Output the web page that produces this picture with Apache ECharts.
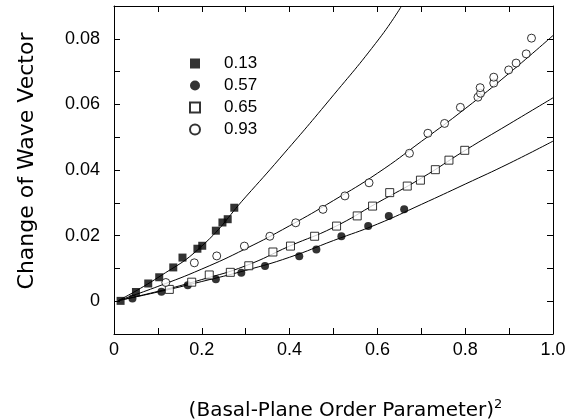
<!DOCTYPE html>
<html>
<head>
<meta charset="utf-8">
<script src="https://cdn.jsdelivr.net/npm/echarts@6/dist/echarts.min.js"></script>
<style>
html,body{margin:0;padding:0;background:#fff;}
#c{width:574px;height:420px;}
</style>
</head>
<body>
<div id="c"></div>
<script>
// Data points: [x, y]
var s013 = [[0.015,0.0001],[0.05,0.0028],[0.078,0.0054],[0.103,0.0073],[0.135,0.0103],[0.156,0.0133],[0.19,0.016],[0.201,0.0169],[0.232,0.0215],[0.247,0.024],[0.259,0.025],[0.274,0.0285]];
var s057 = [[0.042,0.0008],[0.108,0.0029],[0.168,0.0049],[0.232,0.0067],[0.29,0.0087],[0.344,0.0107],[0.422,0.0137],[0.461,0.0158],[0.518,0.0198],[0.579,0.0229],[0.626,0.026],[0.661,0.028]];
var s065 = [[0.126,0.0036],[0.177,0.0058],[0.217,0.008],[0.265,0.0088],[0.307,0.0108],[0.362,0.015],[0.402,0.0168],[0.457,0.0198],[0.507,0.0229],[0.554,0.026],[0.589,0.029],[0.628,0.0331],[0.668,0.0351],[0.698,0.0369],[0.732,0.0401],[0.763,0.043],[0.799,0.046]];
var s093 = [[0.118,0.0057],[0.183,0.0117],[0.234,0.0138],[0.297,0.0168],[0.355,0.0198],[0.414,0.0239],[0.476,0.028],[0.526,0.0321],[0.581,0.0361],[0.673,0.0451],[0.715,0.0512],[0.753,0.0542],[0.789,0.0591],[0.829,0.0622],[0.835,0.0634],[0.834,0.0651],[0.865,0.0665],[0.865,0.0683],[0.899,0.0705],[0.916,0.0726],[0.939,0.0754],[0.951,0.0802]];
// Fitted curves
var c013 = [[0.01,0.0002],[0.1,0.0072],[0.2,0.0168],[0.3,0.0318],[0.378,0.0436],[0.491,0.0614],[0.605,0.0802],[0.655,0.09]];
var c057 = [[0.01,0.0002],[0.1,0.0028],[0.2,0.006],[0.3,0.0094],[0.4,0.0134],[0.5,0.0185],[0.6,0.0235],[0.7,0.0295],[0.8,0.0357],[0.9,0.042],[1.0,0.0488]];
var c065 = [[0.01,0.0002],[0.1,0.003],[0.2,0.0066],[0.3,0.0108],[0.4,0.0168],[0.5,0.0225],[0.6,0.03],[0.7,0.0375],[0.8,0.046],[0.9,0.054],[1.0,0.062]];
var c093 = [[0.01,0.0002],[0.1,0.0045],[0.2,0.0098],[0.3,0.016],[0.4,0.023],[0.5,0.0307],[0.6,0.039],[0.7,0.0487],[0.8,0.0587],[0.9,0.0695],[1.0,0.081]];
var names = ['0.13','0.57','0.65','0.93'];

var FONT = '"Liberation Sans", Arial, sans-serif';
var TFONT = '"DejaVu Sans", sans-serif';
var NFONT = '"Liberation Sans Narrow", "Liberation Sans", Arial, sans-serif';
var chart = echarts.init(document.getElementById('c'), null, {renderer:'canvas'});

function xFmt(v){var k=Math.round(v*10); if(k%2) return ''; if(k===0) return '0'; return (k/10).toFixed(1);}
function yFmt(v){var k=Math.round(v*100); if(k%2||k<0) return ''; if(k===0) return '0'; return (k/100).toFixed(2);}

var axisCommon = {
  min:0, max:1, interval:0.1,
  axisLine:{onZero:false,lineStyle:{color:'#000',width:1}},
  axisTick:{inside:true,length:6,lineStyle:{color:'#000',width:1}},
  splitLine:{show:false}
};
var yCommon = {
  min:-0.01, max:0.09, interval:0.01,
  axisLine:{onZero:false,lineStyle:{color:'#000',width:1}},
  axisTick:{inside:true,length:6,lineStyle:{color:'#000',width:1}},
  splitLine:{show:false}
};

function lineSeries(d){
  return {type:'line', data:d, smooth:true, showSymbol:false, symbol:'none', silent:true,
    lineStyle:{color:'#000',width:1}, clip:true, z:1};
}
function scat(name,d,sym,filled){
  return {type:'scatter', name:name, data:d, symbol:sym, symbolSize:8,
    itemStyle: filled ? {color:'#000'} : {color:'#fff',borderColor:'#000',borderWidth:1},
    z:3};
}

chart.setOption({
  animation:false,
  backgroundColor:'#fff',
  grid:{left:114,right:21,top:6,bottom:86,containLabel:false,outerBoundsMode:'none'},
  legend:{
    orient:'vertical', left:184, top:50, itemWidth:10, itemHeight:10, itemGap:5,
    data:names,
    textStyle:{fontFamily:NFONT,fontSize:17,color:'#000',padding:[0,0,0,19]}
  },
  xAxis:[
    Object.assign({}, axisCommon, {position:'bottom',
      axisLabel:{formatter:xFmt, color:'#000', fontFamily:FONT, fontSize:18, margin:7},
      name:'{t|(Basal-Plane Order Parameter)}{s|2}', nameLocation:'middle', nameGap:64,
      nameTextStyle:{fontFamily:TFONT,color:'#000',padding:[0,0,0,24],
        rich:{t:{fontFamily:TFONT,fontSize:20,color:'#000'},s:{fontFamily:TFONT,fontSize:13,color:'#000',padding:[0,0,13,0]}}}
    }),
    Object.assign({}, axisCommon, {position:'top', axisLabel:{show:false}})
  ],
  yAxis:[
    Object.assign({}, yCommon, {position:'left',
      axisLabel:{formatter:yFmt, color:'#000', fontFamily:FONT, fontSize:18, margin:14},
      name:'Change of Wave Vector', nameLocation:'middle', nameGap:76,
      nameTextStyle:{fontFamily:TFONT,fontSize:22,color:'#000',padding:[0,0,0,18]}
    }),
    Object.assign({}, yCommon, {position:'right', axisLabel:{show:false}})
  ],
  series:[
    lineSeries(c013), lineSeries(c057), lineSeries(c065), lineSeries(c093),
    scat('0.13', s013, 'rect', true),
    scat('0.57', s057, 'circle', true),
    scat('0.65', s065, 'rect', false),
    scat('0.93', s093, 'circle', false)
  ]
});
</script>
</body>
</html>
